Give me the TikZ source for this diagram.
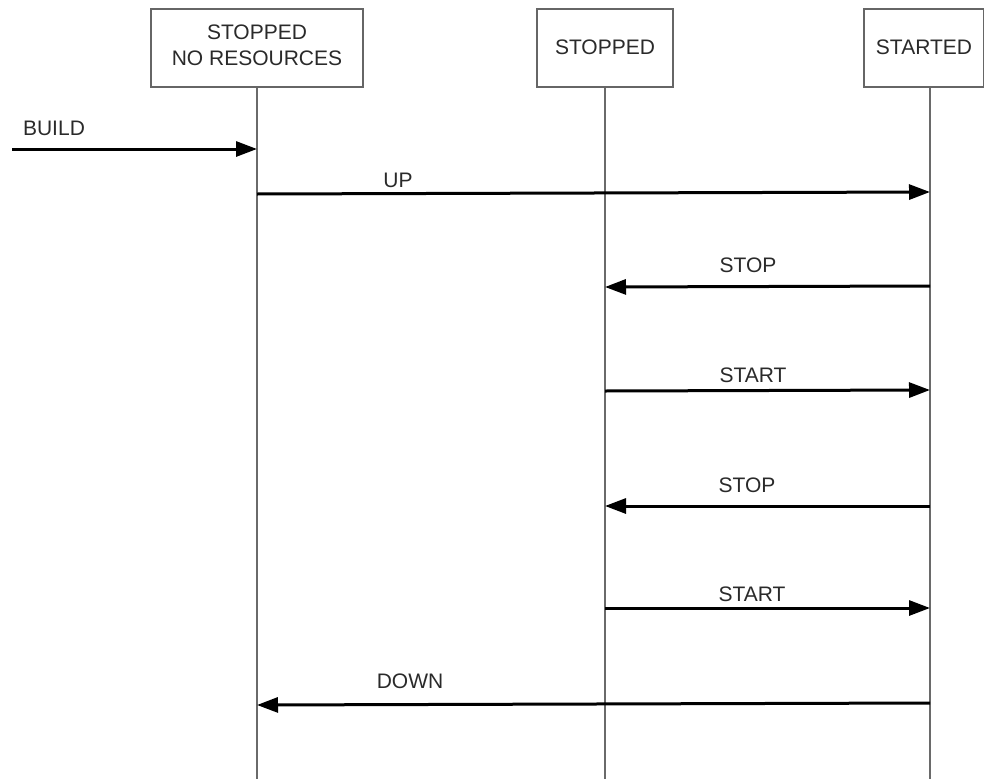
\documentclass[tikz,border=0pt]{standalone}
\usepackage{fontspec}
\setmainfont{Liberation Sans}
\usetikzlibrary{arrows.meta}
\definecolor{txt}{HTML}{2A2A2A}
\definecolor{boxc}{HTML}{666666}
\definecolor{lifec}{HTML}{6A6A6A}
\begin{document}
\begin{tikzpicture}[x=1pt,y=-1pt,
  statebox/.style={draw=boxc,line width=1.5pt,fill=white,inner sep=0pt},
  lifeline/.style={draw=lifec,line width=1.2pt},
  msg/.style={draw=black,line width=3pt,-{Triangle[length=21pt,width=15pt]}},
  lbl/.style={text=txt,font=\fontsize{21}{25}\selectfont,inner sep=0pt}]
\useasboundingbox (0,0) rectangle (985,779);
% lifelines
\coordinate (l1top) at (257,87);
\coordinate (l1bot) at (257,779);
\coordinate (l2top) at (605,87);
\coordinate (l2bot) at (605,779);
\coordinate (l3top) at (930,87);
\coordinate (l3bot) at (930,779);
\draw[lifeline] (l1top) -- (l1bot);
\draw[lifeline] (l2top) -- (l2bot);
\draw[lifeline] (l3top) -- (l3bot);
% boxes
\draw[statebox] (151,9) rectangle (363,87);
\draw[statebox] (537,9) rectangle (673,87);
\draw[statebox] (864,9) rectangle (983.5,87);
\node[lbl] (b1a) at (257,32.5) {STOPPED};
\node[lbl] (b1b) at (257,58) {NO RESOURCES};
\node[lbl] (b2) at (605,47) {STOPPED};
\node[lbl] (b3) at (924,47) {STARTED};
% anchor points on lifelines
\coordinate (s0) at (12,149);
\coordinate (e0) at (257,149);
\coordinate (a1) at (257,194);
\coordinate (b1) at (930,192);
\coordinate (a2) at (930,286);
\coordinate (b2p) at (605,287);
\coordinate (a3) at (605,391);
\coordinate (b3p) at (930,390);
\coordinate (a4) at (930,506);
\coordinate (b4) at (605,506);
\coordinate (a5) at (605,608);
\coordinate (b5) at (930,608);
\coordinate (a6) at (930,703);
\coordinate (b6) at (257,705);
% messages
\draw[msg] (s0) -- (e0);
\draw[msg] (a1) -- (b1);
\draw[msg] (a2) -- (b2p);
\draw[msg] (a3) -- (b3p);
\draw[msg] (a4) -- (b4);
\draw[msg] (a5) -- (b5);
\draw[msg] (a6) -- (b6);
% labels
\node[lbl] (tbuild) at (54,128) {BUILD};
\node[lbl] (tup) at (398,180) {UP};
\node[lbl] (tstop1) at (748,265) {STOP};
\node[lbl] (tstart1) at (753,375) {START};
\node[lbl] (tstop2) at (747,485) {STOP};
\node[lbl] (tstart2) at (752,594) {START};
\node[lbl] (tdown) at (410,681) {DOWN};
\end{tikzpicture}
\end{document}
